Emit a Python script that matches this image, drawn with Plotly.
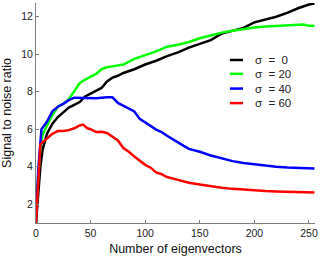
import plotly.graph_objects as go

# Number of eigenvectors (x) and signal-to-noise ratio (y) for each noise level
x_s0 = [0, 2, 4, 6, 8, 10, 15, 20, 25, 30, 35, 40, 45, 50, 55, 60, 65, 70, 75, 80, 90, 100, 110, 120, 130, 140, 150, 160, 170, 180, 190, 200, 210, 220, 230, 240, 250, 255]
y_s0 = [1.0, 2.8, 4.0, 4.9, 5.4, 5.75, 6.3, 6.65, 6.9, 7.15, 7.3, 7.45, 7.75, 7.9, 8.05, 8.2, 8.55, 8.75, 8.85, 9.0, 9.2, 9.45, 9.65, 9.9, 10.1, 10.35, 10.55, 10.75, 11.1, 11.25, 11.4, 11.7, 11.85, 12.0, 12.2, 12.45, 12.65, 12.7]

x_s20 = [0, 2, 4, 6, 10, 15, 20, 25, 30, 35, 40, 45, 50, 55, 60, 65, 70, 80, 90, 100, 110, 120, 130, 140, 150, 160, 170, 180, 190, 200, 210, 220, 230, 240, 245, 250, 255]
y_s20 = [1.0, 3.5, 5.0, 5.7, 6.2, 6.75, 7.2, 7.35, 7.6, 8.0, 8.45, 8.65, 8.8, 8.95, 9.2, 9.3, 9.35, 9.45, 9.75, 9.95, 10.15, 10.4, 10.5, 10.65, 10.85, 11.0, 11.15, 11.25, 11.35, 11.42, 11.48, 11.5, 11.53, 11.56, 11.58, 11.52, 11.52]

x_s40 = [0, 2, 5, 10, 15, 20, 25, 30, 35, 45, 55, 65, 70, 75, 80, 85, 90, 95, 100, 105, 110, 115, 120, 130, 140, 150, 160, 170, 180, 190, 200, 210, 220, 230, 240, 255]
y_s40 = [1.0, 3.8, 6.0, 6.4, 6.95, 7.2, 7.35, 7.55, 7.68, 7.67, 7.65, 7.7, 7.7, 7.4, 7.25, 7.1, 6.95, 6.55, 6.35, 6.15, 5.98, 5.85, 5.65, 5.3, 4.95, 4.8, 4.6, 4.45, 4.3, 4.2, 4.12, 4.05, 4.0, 3.96, 3.93, 3.9]

x_s60 = [0, 2, 4, 6, 10, 15, 20, 25, 30, 35, 40, 43, 47, 50, 55, 60, 65, 70, 75, 80, 85, 90, 95, 100, 105, 110, 115, 120, 130, 140, 150, 160, 170, 180, 190, 200, 210, 220, 230, 240, 255]
y_s60 = [1.0, 3.5, 5.2, 5.3, 5.5, 5.75, 5.9, 5.9, 5.95, 6.05, 6.2, 6.25, 6.05, 6.0, 5.85, 5.87, 5.8, 5.6, 5.4, 5.0, 4.8, 4.55, 4.3, 4.1, 3.95, 3.7, 3.6, 3.45, 3.3, 3.15, 3.05, 2.95, 2.88, 2.82, 2.77, 2.73, 2.7, 2.68, 2.66, 2.64, 2.62]

series_names = ["σ  =  0", "σ  = 20", "σ  = 40", "σ  = 60"]
series_colors = ["#000000", "#00ff00", "#0000ff", "#ff0000"]
x_ticks = [0, 50, 100, 150, 200, 250]
y_ticks = [2, 4, 6, 8, 10, 12]

font_family = "Liberation Sans, Arial, sans-serif"
fig = go.Figure()
for xs, ys, name, col in zip([x_s0, x_s20, x_s40, x_s60], [y_s0, y_s20, y_s40, y_s60], series_names, series_colors):
    fig.add_trace(go.Scatter(x=xs, y=ys, mode="lines", name=name,
                             line=dict(color=col, width=2.5), showlegend=False))

# manual legend (short line samples, like the reference)
leg_y = [0.741, 0.678, 0.611, 0.545]
for ly, name, col in zip(leg_y, series_names, series_colors):
    fig.add_shape(type="line", xref="paper", yref="paper", x0=0.695, x1=0.742, y0=ly, y1=ly,
                  line=dict(color=col, width=2.5))
    fig.add_annotation(xref="paper", yref="paper", x=0.778, y=ly, text=name, showarrow=False,
                       xanchor="left", yanchor="middle", font=dict(size=11.5, color="#222222", family=font_family))

axis_common = dict(showline=True, linecolor="#7f7f7f", linewidth=1, ticks="inside", ticklen=3,
                   tickcolor="#7f7f7f", showgrid=False, zeroline=False, mirror=False, automargin=False,
                   tickfont=dict(size=10.5, color="#222222", family=font_family))
fig.update_xaxes(range=[0, 255.5], tickvals=x_ticks,
                 title=dict(text="Number of eigenvectors", font=dict(size=12.5, color="#111111", family=font_family), standoff=6),
                 **axis_common)
fig.update_yaxes(range=[1, 12.73], tickvals=y_ticks,
                 title=dict(text="Signal to noise ratio", font=dict(size=12.5, color="#111111", family=font_family), standoff=6),
                 **axis_common)
fig.update_layout(width=332, height=261, margin=dict(l=36, r=17, t=3, b=38),
                  paper_bgcolor="white", plot_bgcolor="white", font=dict(family=font_family))
fig.write_html("out.html", config={"displayModeBar": False},
               post_script="document.body.style.margin='0';")
